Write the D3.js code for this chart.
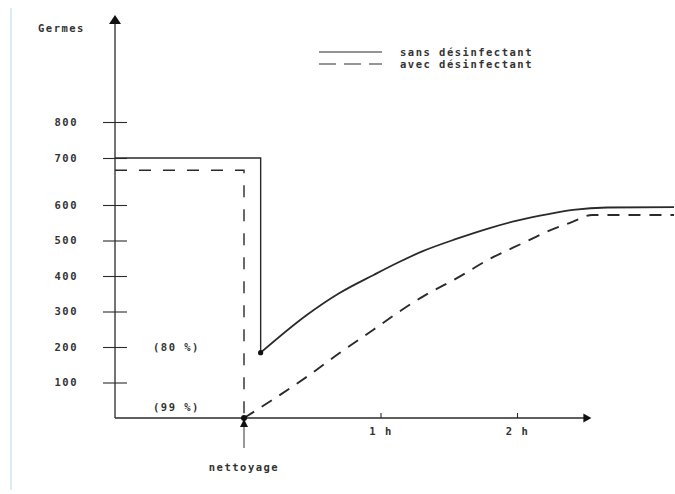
<!DOCTYPE html>
<html>
<head>
<meta charset="utf-8">
<script src="https://cdn.jsdelivr.net/npm/d3@7"></script>
<style>
body { margin: 0; background: #fff; }
text { font-family: "DejaVu Sans Mono", monospace; font-weight: bold; font-size: 10.5px; fill: #333; letter-spacing: 1.5px; }
</style>
</head>
<body>
<div id="container"></div>
<script>
var svgWidth = 675;
var svgHeight = 494;

// valeurs (temps en heures, germes)
var yTicks = [100, 200, 300, 400, 500, 600, 700, 800];
var xTicks = [1, 2];
var seriesNames = ['sans désinfectant', 'avec désinfectant'];

var tempsSans = [-0.945, 0.122, 0.122, 0.46, 0.70, 0.95, 1.14, 1.31, 1.56, 1.80, 2.00, 2.24, 2.41, 2.66, 3.15];
var germesSans = [700, 700, 184, 290, 352, 403, 440, 470, 505, 535, 556, 575, 586, 593, 594];

var tempsAvec = [-0.945, 0, 0, 0.46, 0.70, 0.945, 1.12, 1.31, 1.56, 1.80, 2.05, 2.22, 2.41, 2.55, 3.15];
var germesAvec = [674, 674, 0, 116, 183, 248, 295, 342, 394, 448, 494, 525, 553, 572, 572];

var annotations = ['(80 %)', '(99 %)'];
var eventLabel = 'nettoyage';
var yTitle = 'Germes';

var tMin = -0.945, tMax = 2.545;

var svg = d3.select('body').select('#container').append('svg')
        .attr("width", svgWidth)
        .attr("height", svgHeight)
;

// le dessin original n'est pas regulier entre 600 et 800
var y = d3.scaleLinear()
        .domain([0, 600, 700, 800])
        .range([418, 205, 158, 122])
;
var x = d3.scaleLinear()
        .domain([0, 2])
        .range([244, 517])
;

var ink = '#2a2a2a';

// trait bleu du scan a gauche
svg.append('line')
    .attr('x1', 11).attr('x2', 11)
    .attr('y1', 8).attr('y2', 490)
    .style('stroke', '#c4e2ea')
    .style('stroke-width', 1.2)
;

// axe Y
var yAxis = d3.axisLeft(y).tickValues(yTicks).tickSize(12).tickPadding(25);
var yAxisG = svg.append('g')
    .attr("transform", "translate(" + x(tMin) + ",0)")
    .call(yAxis)
;
yAxisG.select('.domain').remove();
yAxisG.selectAll('.tick line').attr('x1', 12).style('stroke', ink).style('stroke-width', 1.1);

svg.append('line')
    .attr('x1', x(tMin)).attr('x2', x(tMin))
    .attr('y1', y(0)).attr('y2', 22)
    .style('stroke', ink).style('stroke-width', 1.3)
;
svg.append('path')
    .attr('d', d3.line()([[x(tMin), 15], [x(tMin) - 6, 24], [x(tMin) + 6, 24]]))
    .style('fill', '#111')
;

// axe X
var xAxis = d3.axisBottom(x).tickValues(xTicks).tickSize(-5).tickPadding(10)
    .tickFormat(function (d) { return d + ' h'; });
var xAxisG = svg.append('g')
    .attr("transform", "translate(0," + y(0) + ")")
    .call(xAxis)
;
xAxisG.select('.domain').remove();
xAxisG.selectAll('.tick line').style('stroke', ink).style('stroke-width', 1.1);

svg.append('line')
    .attr('x1', x(tMin)).attr('x2', x(tMax) - 5)
    .attr('y1', y(0)).attr('y2', y(0))
    .style('stroke', ink).style('stroke-width', 1.3)
;
svg.append('path')
    .attr('d', d3.line()([[x(tMax), y(0)], [x(tMax) - 8, y(0) - 4.5], [x(tMax) - 8, y(0) + 4.5]]))
    .style('fill', '#111')
;

svg.append('text')
    .attr('x', 38).attr('y', 32)
    .text(yTitle)
;

// courbes
function pts(ts, vs) {
    return ts.map(function (t, i) { return [x(t), y(vs[i])]; });
}
var stepLine = d3.line();
var curveLine = d3.line().curve(d3.curveMonotoneX);

var sans = pts(tempsSans, germesSans);
var avec = pts(tempsAvec, germesAvec);

svg.append('path')
    .attr('d', stepLine(sans.slice(0, 3)))
    .style('fill', 'none').style('stroke', ink).style('stroke-width', 1.4)
;
svg.append('path')
    .attr('d', curveLine(sans.slice(2)))
    .style('fill', 'none').style('stroke', ink).style('stroke-width', 1.8)
;
svg.append('path')
    .attr('d', stepLine(avec.slice(0, 3)))
    .style('fill', 'none').style('stroke', ink).style('stroke-width', 1.4)
    .style('stroke-dasharray', '12,12')
;
svg.append('path')
    .attr('d', curveLine(avec.slice(2)))
    .style('fill', 'none').style('stroke', ink).style('stroke-width', 1.9)
    .style('stroke-dasharray', '12,9')
;

svg.append('circle')
    .attr('cx', sans[2][0]).attr('cy', sans[2][1]).attr('r', 2.6)
    .style('fill', '#111')
;
svg.append('circle')
    .attr('cx', avec[2][0]).attr('cy', avec[2][1]).attr('r', 3)
    .style('fill', '#111')
;

// annotations
svg.append('text')
    .attr('x', 153).attr('y', y(200) + 4)
    .text(annotations[0])
;
svg.append('text')
    .attr('x', 153).attr('y', y(0) - 7)
    .text(annotations[1])
;

// fleche nettoyage
svg.append('line')
    .attr('x1', x(0)).attr('x2', x(0))
    .attr('y1', y(0) + 7).attr('y2', y(0) + 30)
    .style('stroke', '#555').style('stroke-width', 1.2)
;
svg.append('path')
    .attr('d', d3.line()([[x(0), y(0) + 1], [x(0) - 4, y(0) + 9], [x(0) + 4, y(0) + 9]]))
    .style('fill', '#111')
;
svg.append('text')
    .attr('x', x(0)).attr('y', y(0) + 53)
    .attr('text-anchor', 'middle')
    .text(eventLabel)
;

// legende
var legend = svg.append('g').attr("transform", "translate(319,52)");
seriesNames.forEach(function (name, i) {
    legend.append('line')
        .attr('x1', 0).attr('x2', 63)
        .attr('y1', i * 12).attr('y2', i * 12)
        .style('stroke', ink).style('stroke-width', 1.2)
        .style('stroke-dasharray', i == 0 ? null : '17,8')
    ;
    legend.append('text')
        .attr('x', 81).attr('y', i * 12 + 3.5)
        .text(name)
    ;
});
</script>
</body>
</html>
